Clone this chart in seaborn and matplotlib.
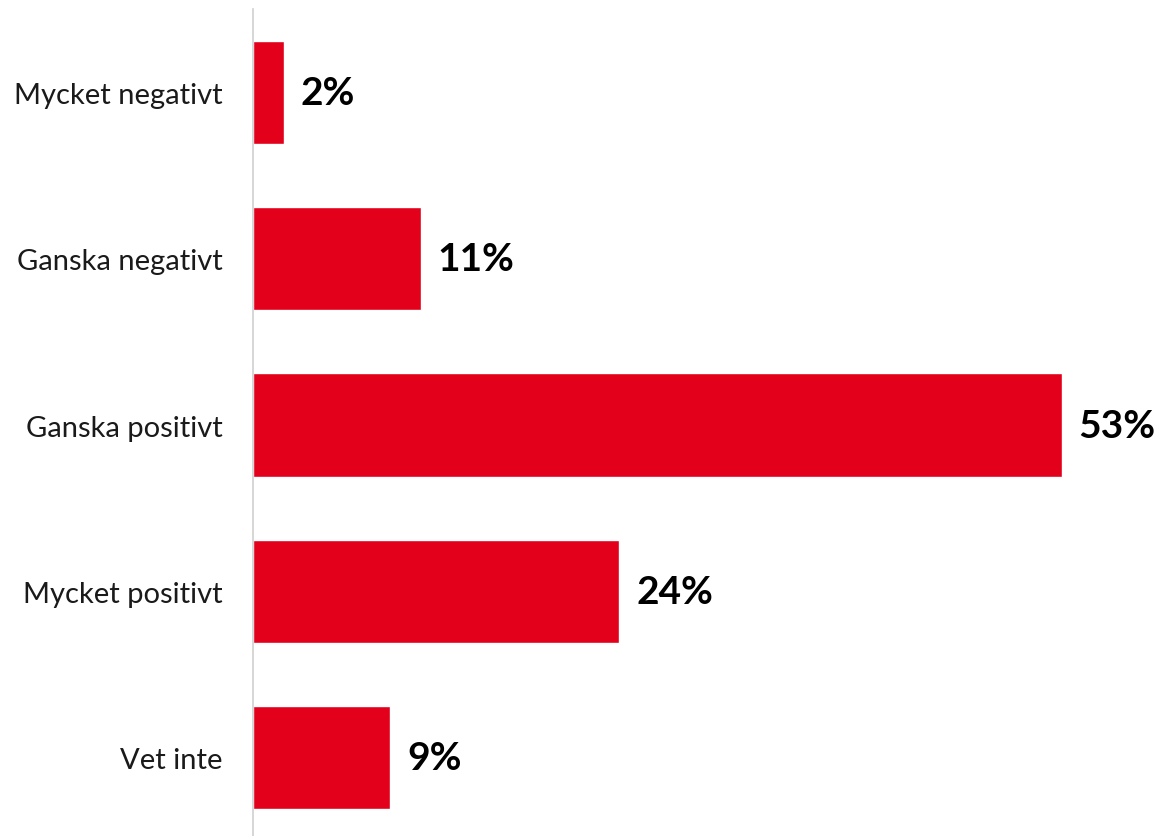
import matplotlib
matplotlib.use("Agg")
import matplotlib.pyplot as plt
import seaborn as sns
import pandas as pd

# data
kategorier = ["Mycket negativt", "Ganska negativt", "Ganska positivt", "Mycket positivt", "Vet inte"]
andel = [2, 11, 53, 24, 9]
etiketter = ["2%", "11%", "53%", "24%", "9%"]

df = pd.DataFrame({"kategori": kategorier, "andel": andel})

sns.set_style("white")
plt.rcParams["font.family"] = ["Lato", "DejaVu Sans"]

fig = plt.figure(figsize=(11.57, 8.37), dpi=100)
ax = fig.add_axes([0.2187, -0.006, 0.765, 0.994])

sns.barplot(data=df, x="andel", y="kategori", orient="h", color="#E2001A",
            saturation=1, width=0.62, ax=ax)

for i, (v, lab) in enumerate(zip(andel, etiketter)):
    ax.text(v + 1.1, i, lab, va="center", ha="left", fontsize=28,
            fontweight="bold", color="black")

ax.set_xlim(0, 58)
ax.set_ylim(4.5, -0.5)
ax.set_xlabel("")
ax.set_ylabel("")
ax.set_xticks([])
ax.tick_params(axis="y", length=0, pad=22, labelsize=21, labelcolor="#1a1a1a")
for s in ["top", "right", "bottom"]:
    ax.spines[s].set_visible(False)
ax.spines["left"].set_color("#d0d0d0")
ax.spines["left"].set_linewidth(1.2)

fig.savefig("out.png", dpi=100)
